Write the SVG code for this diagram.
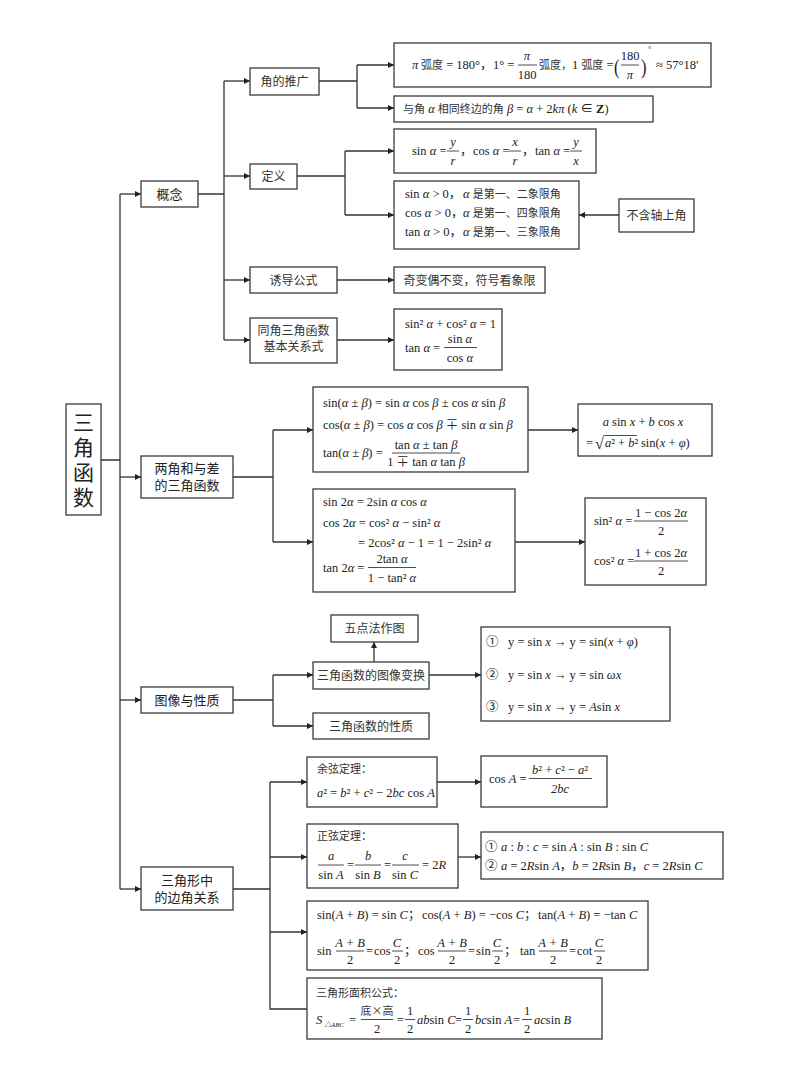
<svg xmlns="http://www.w3.org/2000/svg" width="800" height="1086" viewBox="0 0 800 1086">
<defs>
<marker id="ah" viewBox="0 0 10 10" refX="10" refY="5" markerWidth="7" markerHeight="6" markerUnits="userSpaceOnUse" orient="auto"><path d="M0,0 L10,5 L0,10 z" fill="#222"/></marker>
<style>
.box{fill:#fff;stroke:#3a3a3a;stroke-width:1.3}
.ln{fill:none;stroke:#333;stroke-width:1.3}
.ar{fill:none;stroke:#333;stroke-width:1.3;marker-end:url(#ah)}
.fb{stroke:#222;stroke-width:0.8}
.m{font-family:"Liberation Serif","Noto Sans CJK SC",serif;font-size:12.5px;fill:#222}
.i{font-style:italic}
.c{font-family:"Noto Sans CJK SC",sans-serif;font-size:11px;fill:#333}
.lb{font-family:"Noto Sans CJK SC",sans-serif;font-size:12px;fill:#333;text-anchor:middle}
.l1{font-family:"Noto Sans CJK SC",sans-serif;font-size:13px;fill:#222;text-anchor:middle}
.mid{text-anchor:middle}
.t{font-family:"Noto Sans CJK SC",sans-serif;font-size:21px;fill:#222;writing-mode:vertical-rl;letter-spacing:4px}
.sm{font-size:7px}
.big{font-size:22px}
.deg{font-size:8px}
.rt{font-size:16px}
</style>
</defs>
<rect width="800" height="1086" fill="#fff"/>

<g id="connectors">
<path class="ln" d="M100,460 H120 M120,194 V889"/>
<path class="ar" d="M120,194 H141"/>
<path class="ar" d="M120,477 H141"/>
<path class="ar" d="M120,700 H141"/>
<path class="ar" d="M120,889 H141"/>
<path class="ln" d="M198,194 H224 M224,81 V340"/>
<path class="ar" d="M224,81 H250"/>
<path class="ar" d="M224,176 H250"/>
<path class="ar" d="M224,280 H250"/>
<path class="ar" d="M224,340 H250"/>
<path class="ln" d="M319,81 H357 M357,65 V108"/>
<path class="ar" d="M357,65 H394"/>
<path class="ar" d="M357,108 H394"/>
<path class="ln" d="M297,176 H345 M345,151 V215"/>
<path class="ar" d="M345,151 H394"/>
<path class="ar" d="M345,215 H394"/>
<path class="ar" d="M619,215 H579"/>
<path class="ar" d="M337,280 H394"/>
<path class="ar" d="M337,340 H394"/>
<path class="ln" d="M233,477 H273 M273,430 V542"/>
<path class="ar" d="M273,430 H313"/>
<path class="ar" d="M273,542 H313"/>
<path class="ar" d="M528,430 H578"/>
<path class="ar" d="M515,542 H585"/>
<path class="ln" d="M233,700 H273 M273,675 V726"/>
<path class="ar" d="M273,675 H313"/>
<path class="ar" d="M273,726 H313"/>
<path class="ar" d="M429,675 H481"/>
<path class="ar" d="M374,662 V642"/>
<path class="ln" d="M233,889 H270 M270,782 V1009 H307"/>
<path class="ar" d="M270,782 H307"/>
<path class="ar" d="M270,857 H307"/>
<path class="ar" d="M270,932 H307"/>
<path class="ar" d="M437,782 H481"/>
<path class="ar" d="M458,857 H481"/>
</g>

<g id="root">
<rect class="box" x="66" y="404" width="35" height="111"/>
<text class="t" x="83.5" y="412">三角函数</text>
</g>

<g id="n-gainian"><rect class="box" x="141" y="181" width="57" height="26"/><text class="l1" x="169.5" y="199">概念</text></g>
<g id="n-liangjiao"><rect class="box" x="141" y="456" width="92" height="42"/><text class="l1" x="187" y="473">两角和与差</text><text class="l1" x="187" y="490">的三角函数</text></g>
<g id="n-tuxiang"><rect class="box" x="141" y="687" width="92" height="26"/><text class="l1" x="187" y="705">图像与性质</text></g>
<g id="n-sanjiaoxing"><rect class="box" x="141" y="867" width="92" height="43"/><text class="l1" x="187" y="885">三角形中</text><text class="l1" x="187" y="902">的边角关系</text></g>

<g id="n-tuiguang"><rect class="box" x="250" y="68" width="69" height="27"/><text class="lb" x="284.5" y="86">角的推广</text></g>
<g id="n-dingyi"><rect class="box" x="250" y="164" width="47" height="25"/><text class="lb" x="273.5" y="181">定义</text></g>
<g id="n-youdao"><rect class="box" x="250" y="267" width="87" height="26"/><text class="lb" x="293.5" y="285">诱导公式</text></g>
<g id="n-tongjiao"><rect class="box" x="250" y="318" width="87" height="45"/><text class="lb" x="293.5" y="335">同角三角函数</text><text class="lb" x="293.5" y="351">基本关系式</text></g>

<g id="n-hudu">
<rect class="box" x="394" y="43" width="317" height="44"/>
<text class="m i" x="412" y="69">π</text>
<text class="m" x="421" y="69"><tspan class="c">弧度</tspan> = 180°，</text>
<text class="m" x="493" y="69">1° =</text>
<text class="m i mid" x="527" y="60">π</text>
<line class="fb" x1="518" y1="65" x2="537" y2="65"/>
<text class="m mid" x="527" y="79">180</text>
<text class="m" x="539" y="69"><tspan class="c">弧度，</tspan>1 <tspan class="c">弧度</tspan> =</text>
<text class="m big" x="0" y="74" transform="translate(614 0) scale(0.75 1)">(</text>
<text class="m mid" x="630" y="60">180</text>
<line class="fb" x1="621" y1="65" x2="639" y2="65"/>
<text class="m i mid" x="630" y="79">π</text>
<text class="m big" x="0" y="74" transform="translate(641 0) scale(0.75 1)">)</text>
<text class="m deg" x="648" y="52">°</text>
<text class="m" x="656" y="69">≈ 57°18′</text>
</g>

<g id="n-zhongbian">
<rect class="box" x="394" y="96" width="259" height="26"/>
<text class="m" x="403" y="113"><tspan class="c">与角</tspan> <tspan class="i">α</tspan> <tspan class="c">相同终边的角</tspan> <tspan class="i">β</tspan> = <tspan class="i">α</tspan> + 2<tspan class="i">kπ</tspan> (<tspan class="i">k</tspan> ∈ <tspan font-weight="bold">Z</tspan>)</text>
</g>

<g id="n-def">
<rect class="box" x="394" y="129" width="202" height="44"/>
<text class="m" x="412" y="155">sin <tspan class="i">α</tspan> =</text>
<text class="m i mid" x="453" y="146">y</text><line class="fb" x1="447" y1="151" x2="459" y2="151"/><text class="m i mid" x="453" y="165">r</text>
<text class="m" x="460" y="155">，</text>
<text class="m" x="473" y="155">cos <tspan class="i">α</tspan> =</text>
<text class="m i mid" x="515" y="146">x</text><line class="fb" x1="509" y1="151" x2="521" y2="151"/><text class="m i mid" x="515" y="165">r</text>
<text class="m" x="522" y="155">，</text>
<text class="m" x="535" y="155">tan <tspan class="i">α</tspan> =</text>
<text class="m i mid" x="576" y="146">y</text><line class="fb" x1="570" y1="151" x2="582" y2="151"/><text class="m i mid" x="576" y="165">x</text>
</g>

<g id="n-sign">
<rect class="box" x="394" y="181" width="185" height="68"/>
<text class="m" x="405" y="198">sin <tspan class="i">α</tspan> &gt; 0，</text>
<text class="m" x="463" y="198"><tspan class="i">α</tspan> <tspan class="c">是第一、二象限角</tspan></text>
<text class="m" x="405" y="217">cos <tspan class="i">α</tspan> &gt; 0，</text>
<text class="m" x="463" y="217"><tspan class="i">α</tspan> <tspan class="c">是第一、四象限角</tspan></text>
<text class="m" x="405" y="236">tan <tspan class="i">α</tspan> &gt; 0，</text>
<text class="m" x="463" y="236"><tspan class="i">α</tspan> <tspan class="c">是第一、三象限角</tspan></text>
</g>

<g id="n-buhan"><rect class="box" x="619" y="199" width="75" height="33"/><text class="lb" x="656.5" y="220">不含轴上角</text></g>

<g id="n-qibian"><rect class="box" x="394" y="267" width="151" height="26"/><text class="lb" x="469.5" y="285">奇变偶不变，符号看象限</text></g>

<g id="n-basic">
<rect class="box" x="394" y="309" width="108" height="61"/>
<text class="m" x="405" y="328">sin² <tspan class="i">α</tspan> + cos² <tspan class="i">α</tspan> = 1</text>
<text class="m" x="405" y="352">tan <tspan class="i">α</tspan> =</text>
<text class="m mid" x="460" y="343">sin <tspan class="i">α</tspan></text>
<line class="fb" x1="444" y1="347.5" x2="477" y2="347.5"/>
<text class="m mid" x="460" y="362">cos <tspan class="i">α</tspan></text>
</g>

<g id="n-sum">
<rect class="box" x="313" y="387" width="215" height="85"/>
<text class="m" x="323" y="407">sin(<tspan class="i">α</tspan> ± <tspan class="i">β</tspan>) = sin <tspan class="i">α</tspan> cos <tspan class="i">β</tspan> ± cos <tspan class="i">α</tspan> sin <tspan class="i">β</tspan></text>
<text class="m" x="323" y="429">cos(<tspan class="i">α</tspan> ± <tspan class="i">β</tspan>) = cos <tspan class="i">α</tspan> cos <tspan class="i">β</tspan> ∓ sin <tspan class="i">α</tspan> sin <tspan class="i">β</tspan></text>
<text class="m" x="323" y="457">tan(<tspan class="i">α</tspan> ± <tspan class="i">β</tspan>) =</text>
<text class="m mid" x="426" y="449">tan <tspan class="i">α</tspan> ± tan <tspan class="i">β</tspan></text>
<line class="fb" x1="392" y1="453" x2="460" y2="453"/>
<text class="m mid" x="426" y="466">1 ∓ tan <tspan class="i">α</tspan> tan <tspan class="i">β</tspan></text>
</g>

<g id="n-aux">
<rect class="box" x="578" y="404" width="134" height="52"/>
<text class="m mid" x="643" y="426"><tspan class="i">a</tspan> sin <tspan class="i">x</tspan> + <tspan class="i">b</tspan> cos <tspan class="i">x</tspan></text>
<text class="m" x="586" y="447">=</text>
<text class="m rt" x="595" y="449">√</text>
<line class="fb" x1="603.5" y1="435.5" x2="637" y2="435.5"/>
<text class="m" x="605" y="447"><tspan class="i">a</tspan>² + <tspan class="i">b</tspan>²</text>
<text class="m" x="641" y="447">sin(<tspan class="i">x</tspan> + <tspan class="i">φ</tspan>)</text>
</g>

<g id="n-double">
<rect class="box" x="313" y="489" width="202" height="103"/>
<text class="m" x="323" y="506">sin 2<tspan class="i">α</tspan> = 2sin <tspan class="i">α</tspan> cos <tspan class="i">α</tspan></text>
<text class="m" x="323" y="527">cos 2<tspan class="i">α</tspan> = cos² <tspan class="i">α</tspan> − sin² <tspan class="i">α</tspan></text>
<text class="m" x="358" y="547">= 2cos² <tspan class="i">α</tspan> − 1 = 1 − 2sin² <tspan class="i">α</tspan></text>
<text class="m" x="323" y="572">tan 2<tspan class="i">α</tspan> =</text>
<text class="m mid" x="392" y="563">2tan <tspan class="i">α</tspan></text>
<line class="fb" x1="368" y1="567.5" x2="416" y2="567.5"/>
<text class="m mid" x="392" y="582">1 − tan² <tspan class="i">α</tspan></text>
</g>

<g id="n-lower">
<rect class="box" x="585" y="498" width="121" height="87"/>
<text class="m" x="594" y="525">sin² <tspan class="i">α</tspan> =</text>
<text class="m mid" x="661" y="517">1 − cos 2<tspan class="i">α</tspan></text>
<line class="fb" x1="634" y1="521" x2="688" y2="521"/>
<text class="m mid" x="661" y="535">2</text>
<text class="m" x="594" y="565">cos² <tspan class="i">α</tspan> =</text>
<text class="m mid" x="661" y="557">1 + cos 2<tspan class="i">α</tspan></text>
<line class="fb" x1="634" y1="561" x2="688" y2="561"/>
<text class="m mid" x="661" y="575">2</text>
</g>

<g id="n-wudian"><rect class="box" x="331" y="615" width="87" height="27"/><text class="lb" x="374.5" y="633">五点法作图</text></g>
<g id="n-bianhuan"><rect class="box" x="313" y="662" width="116" height="27"/><text class="lb" x="371" y="680">三角函数的图像变换</text></g>
<g id="n-xingzhi"><rect class="box" x="313" y="713" width="116" height="26"/><text class="lb" x="371" y="731">三角函数的性质</text></g>

<g id="n-trans">
<rect class="box" x="481" y="627" width="189" height="94"/>
<text class="m" x="486" y="646">①</text>
<text class="m" x="508" y="646">y = sin <tspan class="i">x</tspan> → y = sin(<tspan class="i">x</tspan> + <tspan class="i">φ</tspan>)</text>
<text class="m" x="486" y="679">②</text>
<text class="m" x="508" y="679">y = sin <tspan class="i">x</tspan> → y = sin <tspan class="i">ωx</tspan></text>
<text class="m" x="486" y="711">③</text>
<text class="m" x="508" y="711">y = sin <tspan class="i">x</tspan> → y = <tspan class="i">A</tspan>sin <tspan class="i">x</tspan></text>
</g>

<g id="n-cosine">
<rect class="box" x="307" y="757" width="130" height="50"/>
<text class="c" x="317" y="773">余弦定理：</text>
<text class="m" x="317" y="797"><tspan class="i">a</tspan>² = <tspan class="i">b</tspan>² + <tspan class="i">c</tspan>² − 2<tspan class="i">bc</tspan> cos <tspan class="i">A</tspan></text>
</g>

<g id="n-cosA">
<rect class="box" x="481" y="756" width="126" height="51"/>
<text class="m" x="489" y="783">cos <tspan class="i">A</tspan> =</text>
<text class="m mid" x="560" y="774"><tspan class="i">b</tspan>² + <tspan class="i">c</tspan>² − <tspan class="i">a</tspan>²</text>
<line class="fb" x1="529" y1="778.5" x2="592" y2="778.5"/>
<text class="m mid i" x="560" y="793">2bc</text>
</g>

<g id="n-sine">
<rect class="box" x="307" y="824" width="151" height="64"/>
<text class="c" x="317" y="840">正弦定理：</text>
<text class="m i mid" x="331" y="860">a</text><line class="fb" x1="318" y1="865" x2="344" y2="865"/><text class="m mid" x="331" y="879">sin <tspan class="i">A</tspan></text>
<text class="m" x="347" y="869">=</text>
<text class="m i mid" x="368" y="860">b</text><line class="fb" x1="355" y1="865" x2="381" y2="865"/><text class="m mid" x="368" y="879">sin <tspan class="i">B</tspan></text>
<text class="m" x="384" y="869">=</text>
<text class="m i mid" x="405" y="860">c</text><line class="fb" x1="392" y1="865" x2="419" y2="865"/><text class="m mid" x="405" y="879">sin <tspan class="i">C</tspan></text>
<text class="m" x="422" y="869">= 2<tspan class="i">R</tspan></text>
</g>

<g id="n-ratio">
<rect class="box" x="481" y="832" width="242" height="47"/>
<text class="m" x="485" y="851">①</text>
<text class="m" x="501" y="851"><tspan class="i">a</tspan> : <tspan class="i">b</tspan> : <tspan class="i">c</tspan> = sin <tspan class="i">A</tspan> : sin <tspan class="i">B</tspan> : sin <tspan class="i">C</tspan></text>
<text class="m" x="485" y="870">②</text>
<text class="m" x="501" y="870"><tspan class="i">a</tspan> = 2<tspan class="i">R</tspan>sin <tspan class="i">A</tspan>，<tspan class="i">b</tspan> = 2<tspan class="i">R</tspan>sin <tspan class="i">B</tspan>，<tspan class="i">c</tspan> = 2<tspan class="i">R</tspan>sin <tspan class="i">C</tspan></text>
</g>

<g id="n-induce">
<rect class="box" x="307" y="901" width="341" height="69"/>
<text class="m" x="317" y="919">sin(<tspan class="i">A</tspan> + <tspan class="i">B</tspan>) = sin <tspan class="i">C</tspan>；</text>
<text class="m" x="422" y="919">cos(<tspan class="i">A</tspan> + <tspan class="i">B</tspan>) = −cos <tspan class="i">C</tspan>；</text>
<text class="m" x="538" y="919">tan(<tspan class="i">A</tspan> + <tspan class="i">B</tspan>) = −tan <tspan class="i">C</tspan></text>
<text class="m" x="317" y="955">sin</text>
<text class="m mid i" x="350" y="947">A + B</text><line class="fb" x1="336" y1="951" x2="364" y2="951"/><text class="m mid" x="350" y="964">2</text>
<text class="m" x="366" y="955">=<tspan dx="1">cos</tspan></text>
<text class="m mid i" x="397" y="947">C</text><line class="fb" x1="392" y1="951" x2="403" y2="951"/><text class="m mid" x="397" y="964">2</text>
<text class="m" x="404" y="955">；</text>
<text class="m" x="418" y="955">cos</text>
<text class="m mid i" x="452" y="947">A + B</text><line class="fb" x1="438" y1="951" x2="466" y2="951"/><text class="m mid" x="452" y="964">2</text>
<text class="m" x="468" y="955">=<tspan dx="1">sin</tspan></text>
<text class="m mid i" x="497" y="947">C</text><line class="fb" x1="492" y1="951" x2="503" y2="951"/><text class="m mid" x="497" y="964">2</text>
<text class="m" x="504" y="955">；</text>
<text class="m" x="520" y="955">tan</text>
<text class="m mid i" x="553" y="947">A + B</text><line class="fb" x1="539" y1="951" x2="567" y2="951"/><text class="m mid" x="553" y="964">2</text>
<text class="m" x="569" y="955">=<tspan dx="1">cot</tspan></text>
<text class="m mid i" x="599" y="947">C</text><line class="fb" x1="594" y1="951" x2="605" y2="951"/><text class="m mid" x="599" y="964">2</text>
</g>

<g id="n-area">
<rect class="box" x="307" y="978" width="295" height="61"/>
<text class="c" x="316" y="997">三角形面积公式：</text>
<text class="m i" x="316" y="1024">S</text>
<text class="m sm i" x="324" y="1027">△ABC</text>
<text class="m" x="349" y="1024">=</text>
<text class="c mid" x="377" y="1015">底×高</text><line class="fb" x1="361" y1="1019.5" x2="393" y2="1019.5"/><text class="m mid" x="377" y="1033">2</text>
<text class="m" x="397" y="1024">=</text>
<text class="m mid" x="410" y="1015">1</text><line class="fb" x1="405" y1="1019.5" x2="415" y2="1019.5"/><text class="m mid" x="410" y="1033">2</text>
<text class="m" x="417" y="1024"><tspan class="i">ab</tspan>sin <tspan class="i">C</tspan></text>
<text class="m" x="455" y="1024">=</text>
<text class="m mid" x="468" y="1015">1</text><line class="fb" x1="463" y1="1019.5" x2="473" y2="1019.5"/><text class="m mid" x="468" y="1033">2</text>
<text class="m" x="475" y="1024"><tspan class="i">bc</tspan>sin <tspan class="i">A</tspan></text>
<text class="m" x="513" y="1024">=</text>
<text class="m mid" x="527" y="1015">1</text><line class="fb" x1="522" y1="1019.5" x2="532" y2="1019.5"/><text class="m mid" x="527" y="1033">2</text>
<text class="m" x="534" y="1024"><tspan class="i">ac</tspan>sin <tspan class="i">B</tspan></text>
</g>
</svg>
